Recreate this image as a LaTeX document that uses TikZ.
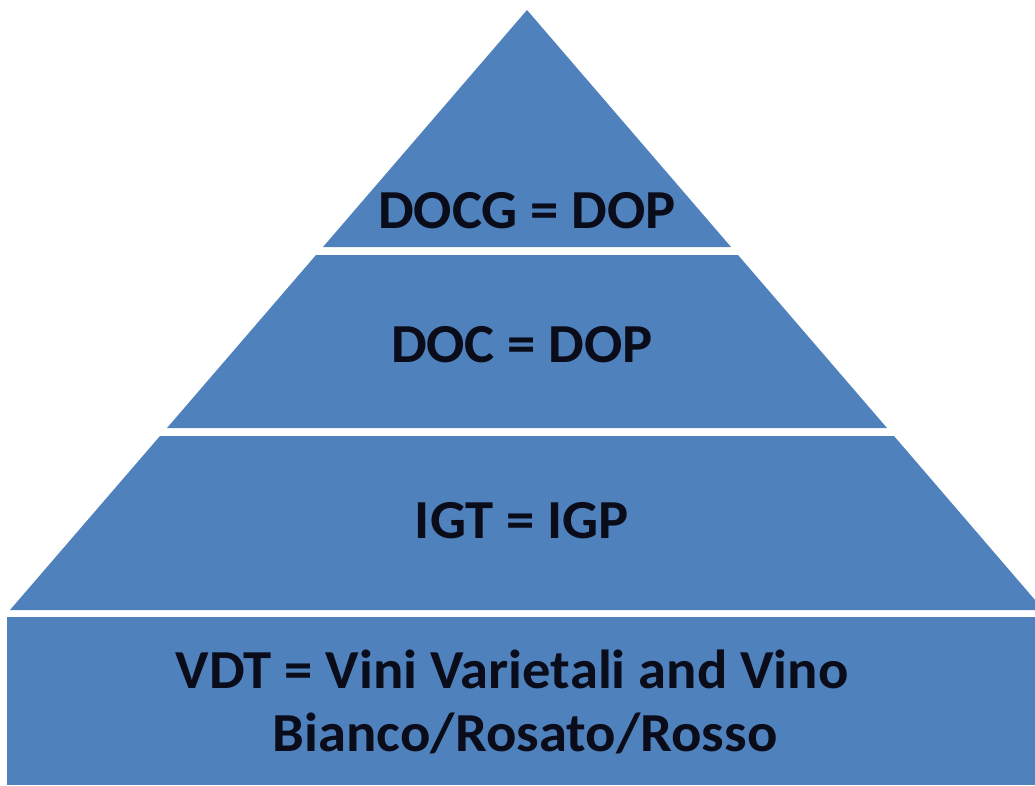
\documentclass[tikz,border=0pt]{standalone}
\usepackage{fontspec}
\setmainfont{Carlito}
\definecolor{tierblue}{RGB}{79,129,189}
\definecolor{tiertext}{RGB}{10,12,25}
\begin{document}
\begin{tikzpicture}[x=1pt,y=-1pt,
  tier/.style={fill=tierblue,draw=none},
  tierlabel/.style={anchor=base,text=tiertext,font=\fontsize{55}{63}\selectfont\bfseries,inner sep=0pt,align=center,xscale=1.03,transform shape}]
\useasboundingbox (0,0) rectangle (1035,785);
\fill[white] (0,0) rectangle (1035,785);
% tiers
\path[tier] (527,10) -- (731,247) -- (323,247) -- cycle;
\path[tier] (316,255) -- (738,255) -- (887,428) -- (167,428) -- cycle;
\path[tier] (160,436) -- (894,436) -- (1035,600) -- (1035,610) -- (10,610) -- cycle;
\path[tier] (7,617) rectangle (1035,785);
% labels
\node[tierlabel] (docg) at (527,228) {DOCG = DOP};
\node[tierlabel] (doc) at (522,362) {DOC = DOP};
\node[tierlabel] (igt) at (522,538) {IGT = IGP};
\node[tierlabel] (vdt1) at (512,688) {VDT = Vini Varietali and Vino};
\node[tierlabel] (vdt2) at (525,751) {Bianco/Rosato/Rosso};
\end{tikzpicture}
\end{document}
